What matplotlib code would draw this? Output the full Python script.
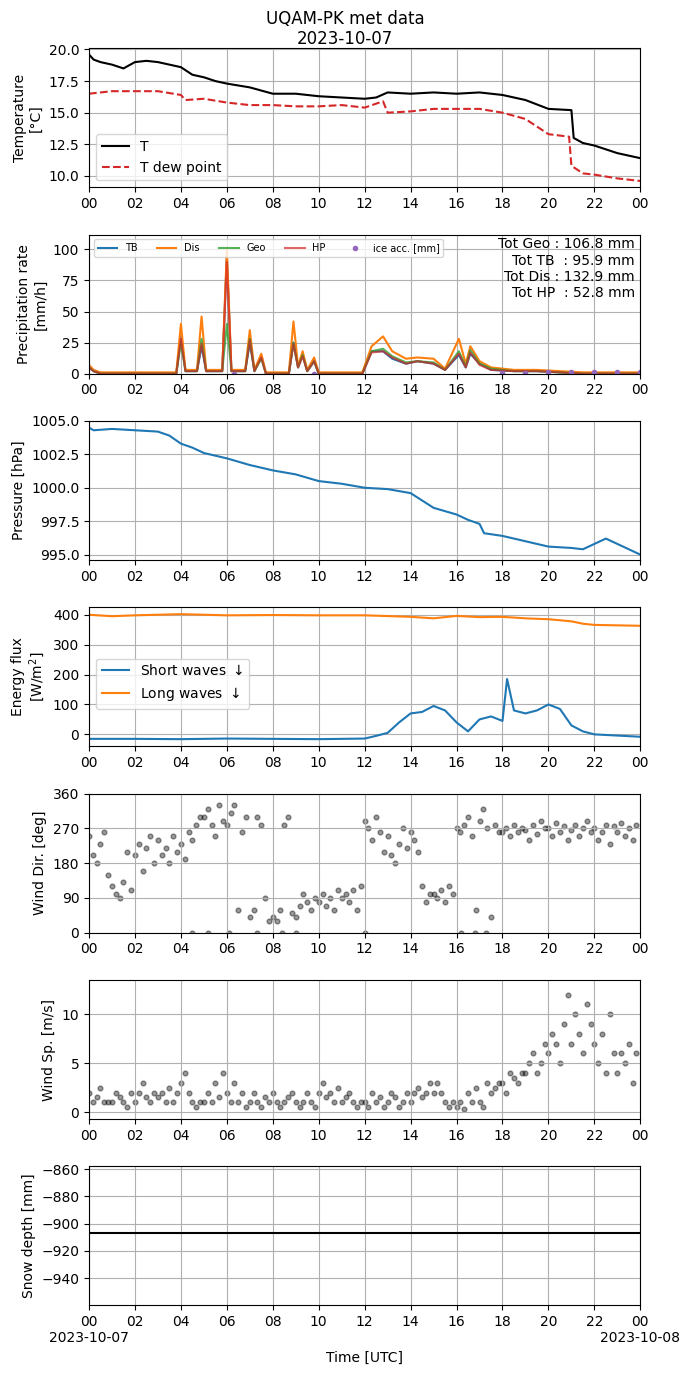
import numpy as np
import pandas as pd
import matplotlib
matplotlib.use("Agg")
import matplotlib.pyplot as plt
import matplotlib.dates as mdates

base = pd.Timestamp("2023-10-07")
def tt(h):
    return base + pd.to_timedelta(np.asarray(h, dtype=float), unit="h")

# temperature
t_h = [0, .2, .5, 1, 1.5, 2, 2.5, 3, 3.5, 4, 4.5, 5, 5.5, 6, 7, 8, 9, 10, 11, 12, 12.5, 13, 14, 15, 16, 17, 18, 19, 20, 21, 21.1, 21.5, 22, 23, 24]
t_T = [19.6, 19.2, 19.0, 18.8, 18.5, 19.0, 19.1, 19.0, 18.8, 18.6, 18.0, 17.8, 17.5, 17.3, 17.0, 16.5, 16.5, 16.3, 16.2, 16.1, 16.2, 16.6, 16.5, 16.6, 16.5, 16.6, 16.4, 16.0, 15.3, 15.2, 13.0, 12.6, 12.4, 11.8, 11.4]
d_h = [0, 1, 2, 3, 4, 4.2, 5, 6, 7, 8, 9, 10, 11, 12, 12.8, 13, 14, 15, 16, 17, 18, 19, 20, 20.9, 21, 21.5, 22, 23, 24]
d_T = [16.5, 16.7, 16.7, 16.7, 16.4, 16.0, 16.1, 15.8, 15.6, 15.6, 15.5, 15.5, 15.6, 15.4, 15.9, 15.0, 15.1, 15.3, 15.3, 15.3, 15.0, 14.5, 13.3, 13.1, 10.8, 10.2, 10.1, 9.8, 9.6]

# precipitation
p_h = [0, .2, .5, 3.8, 4.0, 4.2, 4.7, 4.9, 5.1, 5.8, 6.0, 6.2, 6.8, 7.0, 7.2, 7.5, 7.7, 8.7, 8.9, 9.1, 9.3, 9.5, 9.8, 10.0, 11.9, 12.3, 12.8, 13.2, 13.8, 14.3, 15.0, 15.5, 16.1, 16.4, 16.6, 17.0, 17.5, 18.5, 19.5, 20.5, 21.5, 24]
p_TB = [5, 2, 0, 0, 30, 2, 2, 22, 2, 2, 95, 2, 2, 25, 2, 14, 0, 0, 25, 5, 15, 2, 10, 0, 0, 18, 18, 12, 8, 10, 8, 3, 15, 5, 16, 8, 3, 2, 2, 1, 0, 0]
p_Dis = [7, 3, 1, 1, 40, 3, 3, 46, 3, 3, 100, 3, 3, 35, 3, 16, 1, 1, 42, 6, 18, 3, 13, 1, 1, 22, 30, 18, 12, 13, 12, 4, 28, 8, 22, 10, 5, 3, 3, 2, 1, 1]
p_Geo = [5, 2, 0, 0, 25, 2, 2, 28, 2, 2, 40, 2, 2, 28, 2, 12, 0, 0, 25, 5, 15, 2, 10, 0, 0, 18, 20, 14, 9, 10, 9, 3, 18, 6, 19, 8, 4, 2, 2, 1, 0, 0]
p_HP = [5, 2, 0, 0, 28, 2, 2, 24, 2, 2, 90, 2, 2, 27, 2, 13, 0, 0, 24, 5, 14, 2, 10, 0, 0, 17, 18, 13, 8, 10, 8, 3, 16, 5, 17, 7, 3, 2, 2, 1, 0, 0]
ice_h = [6.3, 9.8, 18, 19, 20, 21, 22, 23, 24]
ice_v = [0, 0, 0.5, 0.5, 1, 1, 1, 1, 1]

# pressure
pr_h = [0, .2, 1, 2, 3, 3.5, 4, 4.5, 5, 6, 7, 8, 9, 10, 11, 12, 13, 14, 15, 16, 16.5, 17, 17.2, 18, 19, 20, 21, 21.5, 22, 22.5, 23, 24]
pr_v = [1004.5, 1004.3, 1004.4, 1004.3, 1004.2, 1003.9, 1003.3, 1003.0, 1002.6, 1002.2, 1001.7, 1001.3, 1001.0, 1000.5, 1000.3, 1000.0, 999.9, 999.6, 998.5, 998.0, 997.6, 997.3, 996.6, 996.4, 996.0, 995.6, 995.5, 995.4, 995.8, 996.2, 995.8, 995.0]

# energy
lw_h = [0, 1, 2, 3, 4, 5, 6, 8, 10, 12, 14, 15, 16, 17, 18, 19, 20, 21, 21.5, 22, 24]
lw_v = [400, 395, 398, 400, 402, 400, 398, 399, 398, 398, 393, 388, 396, 392, 393, 388, 385, 378, 370, 366, 363]
sw_h = [0, 2, 4, 6, 8, 10, 12, 12.5, 13, 13.5, 14, 14.5, 15, 15.5, 16, 16.5, 17, 17.5, 18, 18.2, 18.5, 19, 19.5, 20, 20.5, 21, 21.5, 22, 24]
sw_v = [-15, -15, -16, -14, -15, -16, -14, -5, 5, 40, 70, 75, 95, 80, 40, 10, 50, 60, 45, 185, 80, 70, 80, 100, 85, 30, 10, 0, -8]

# wind direction, 6 samples per hour
wd = [250, 200, 180, 230, 260, 150, 120, 100, 90, 130, 210, 110, 200, 230, 160, 220, 250, 180,
      240, 200, 220, 180, 250, 210, 230, 190, 260, 240, 280, 300, 300, 320, 280, 250, 330, 290,
      280, 310, 330, 60, 260, 300, 40, 60, 300, 280, 90, 30, 40, 30, 60, 280, 300, 50,
      40, 70, 100, 80, 60, 90, 80, 100, 70, 90, 60, 110, 90, 100, 80, 110, 60, 120,
      290, 270, 240, 300, 260, 210, 250, 200, 180, 230, 270, 220, 260, 240, 210, 120, 80, 100,
      100, 90, 110, 80, 120, 100, 270, 260, 280, 300, 250, 60, 290, 320, 270, 40, 280, 260,
      260, 270, 250, 280, 260, 270, 265, 240, 280, 255, 290, 270, 270, 250, 285, 260, 275, 240,
      265, 280, 250, 270, 290, 260, 270, 240, 260, 280, 230, 275, 260, 285, 250, 270, 240, 280]
wd0_h = [4.5, 5.2, 6.1, 7.3, 8.4, 9.0, 12.0, 16.2, 16.8, 17.3]

# wind speed, 6 samples per hour
ws = [2, 1, 1.5, 2.5, 1, 1, 1, 2, 1.5, 1, .5, 2, 1, 2, 3, 1.5, 1, 2, 1.5, 2, 1, 2.5, 1, 2,
      3, 4, 2, 1, .5, 1, 1, 2, 1, 3, 1.5, 4, 2, 1, 3, 1, 2, .5, 1, 2, 1, .5, 1.5, 1,
      2, 1, .5, 1, 1.5, 2, 1, .5, 1, 2, 1, .5, 2, 3, 1.5, 2, 1, 2.5, 1, 1.5, 2, 1, .5, 1,
      1, .5, 2, 1, 1.5, .5, 1, 2, 1.5, .5, 1, 2, 1, 2, 2.5, 1.5, 2, 3, 2, 3, 2, 1, .5, 1,
      .5, 1, .3, 2, 1, 2.5, 1, .5, 3, 2, 2.5, 3, 3, 2, 4, 3.5, 3, 4, 4, 5, 6, 4, 5, 7,
      6, 8, 7, 5, 9, 12, 7, 10, 8, 6, 11, 9, 7, 5, 8, 4, 10, 6, 4, 6, 5, 7, 3, 6]

snow_h = [0, 24]
snow_v = [-907, -907]

fig, axs = plt.subplots(7, 1, figsize=(6.9, 13.77), dpi=100)
fig.subplots_adjust(left=0.129, right=0.928, top=0.965, bottom=0.052, hspace=0.34)
fig.suptitle("UQAM-PK met data\n2023-10-07", y=0.993, fontsize=12)

ax = axs[0]
ax.plot(tt(t_h), t_T, color="black", label="T")
ax.plot(tt(d_h), d_T, "--", color="tab:red", label="T dew point")
ax.set_ylabel("Temperature\n[°C]")
ax.set_yticks([10, 12.5, 15, 17.5, 20])
ax.legend(loc="lower left")

ax = axs[1]
ax.plot(tt(p_h), p_TB, label="TB")
ax.plot(tt(p_h), p_Dis, label="Dis")
ax.plot(tt(p_h), p_Geo, label="Geo", alpha=0.8)
ax.plot(tt(p_h), p_HP, label="HP", alpha=0.7)
ax.plot(tt(ice_h), ice_v, ".", color="tab:purple", label="ice acc. [mm]")
ax.set_ylim(0, 112)
ax.set_ylabel("Precipitation rate\n[mm/h]")
ax.legend(loc="upper left", ncol=5, fontsize=7)
ax.text(0.99, 0.98, "Tot Geo : 106.8 mm\nTot TB  : 95.9 mm\nTot Dis : 132.9 mm\nTot HP  : 52.8 mm",
        transform=ax.transAxes, ha="right", va="top", fontsize=10)

ax = axs[2]
ax.plot(tt(pr_h), pr_v)
ax.set_ylabel("Pressure [hPa]")
ax.set_yticks([995, 997.5, 1000, 1002.5, 1005])
ax.set_ylim(994.6, 1005)

ax = axs[3]
ax.plot(tt(sw_h), sw_v, label="Short waves $\\downarrow$")
ax.plot(tt(lw_h), lw_v, label="Long waves $\\downarrow$")
ax.set_ylabel("Energy flux\n[W/m$^2$]")
ax.set_ylim(-40, 425)
ax.legend(loc="center left", bbox_to_anchor=(0, 0.45))

ax = axs[4]
wd_h = np.arange(len(wd)) / 6
ax.scatter(tt(wd_h), wd, s=12, color="black", alpha=0.4)
ax.scatter(tt(wd0_h), np.zeros(len(wd0_h)), s=12, color="black", alpha=0.4)
ax.set_ylim(0, 360)
ax.set_yticks([0, 90, 180, 270, 360])
ax.set_ylabel("Wind Dir. [deg]")

ax = axs[5]
ws_h = np.arange(len(ws)) / 6
ax.scatter(tt(ws_h), ws, s=12, color="black", alpha=0.4)
ax.set_ylim(-0.7, 13.5)
ax.set_yticks([0, 5, 10])
ax.set_ylabel("Wind Sp. [m/s]")

ax = axs[6]
ax.plot(tt(snow_h), snow_v, color="black")
ax.set_ylim(-960, -858)
ax.set_yticks([-860, -880, -900, -920, -940])
ax.set_ylabel("Snow depth [mm]")
ax.set_xlabel("Time [UTC]")

for ax in axs:
    ax.set_xlim(base, base + pd.Timedelta(hours=24))
    ax.xaxis.set_major_locator(mdates.HourLocator(interval=2))
    ax.xaxis.set_major_formatter(mdates.DateFormatter("%H"))
    ax.grid(True)

ticks = [base + pd.Timedelta(hours=h) for h in range(0, 25, 2)]
labels = ["00\n2023-10-07"] + [f"{h:02d}" for h in range(2, 24, 2)] + ["00\n2023-10-08"]
axs[6].set_xticks(ticks)
axs[6].set_xticklabels(labels)

fig.savefig("out.png")
